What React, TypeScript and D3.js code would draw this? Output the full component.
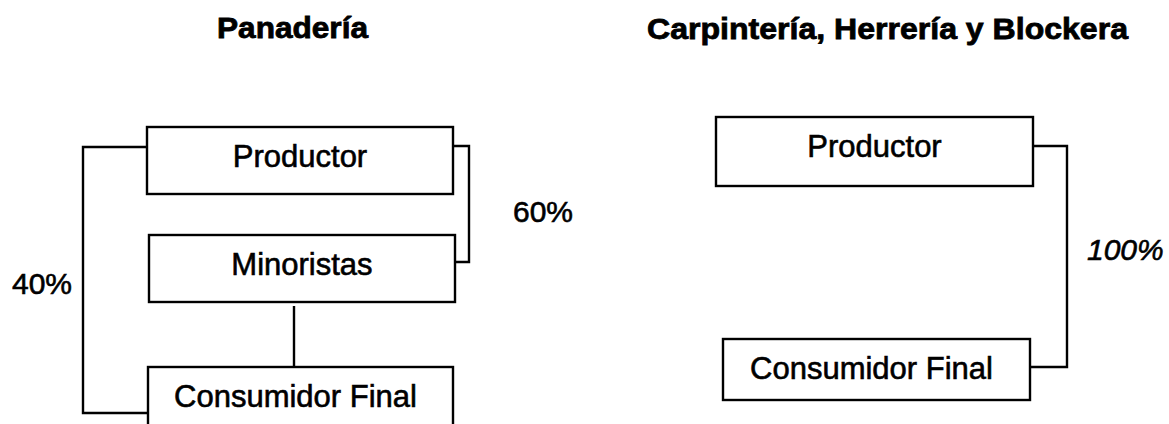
import React from "react";
import * as d3 from "d3";

// ---- data ----
const panelTitles = ["Panadería", "Carpintería, Herrería y Blockera"];
const leftNodes = ["Productor", "Minoristas", "Consumidor Final"];
const rightNodes = ["Productor", "Consumidor Final"];
const leftShares = ["40%", "60%"];
const rightShares = ["100%"];

// ---- layout (positions only) ----
const W = 1169;
const H = 424;
const FONT = "'Liberation Sans', Arial, Helvetica, sans-serif";

type Box = { x0: number; x1: number; y0: number; y1: number };
const leftBoxes: Box[] = [
  { x0: 147, x1: 453, y0: 127, y1: 194 },
  { x0: 149, x1: 455, y0: 235, y1: 302 },
  { x0: 148, x1: 453, y0: 367, y1: 440 },
];
const rightBoxes: Box[] = [
  { x0: 716, x1: 1033, y0: 117, y1: 186 },
  { x0: 723, x1: 1030, y0: 339, y1: 400 },
];
const titleLayout = [
  { x0: 217, x1: 368, y: 38 },
  { x0: 647, x1: 1128, y: 39 },
];

function stepPath(pts: [number, number][]) {
  const p = d3.path();
  pts.forEach(([x, y], i) => (i === 0 ? p.moveTo(x, y) : p.lineTo(x, y)));
  return p.toString();
}

export default function App() {
  const lb = leftBoxes;
  const rb = rightBoxes;
  const connectors = [
    stepPath([[lb[0].x0, 147], [83, 147], [83, 413], [lb[2].x0, 413]]),
    stepPath([[lb[0].x1, 146], [469, 146], [469, 262], [lb[1].x1, 262]]),
    stepPath([[294, lb[1].y1 + 4], [294, lb[2].y0]]),
    stepPath([[rb[0].x1, 146], [1067, 146], [1067, 367], [rb[1].x1, 367]]),
  ];

  const boxes = [
    ...leftNodes.map((n, i) => ({ label: n, b: lb[i] })),
    ...rightNodes.map((n, i) => ({ label: n, b: rb[i] })),
  ];

  const shareLabels = [
    { t: leftShares[0], x: 12, y: 294, italic: false },
    { t: leftShares[1], x: 513, y: 222, italic: false },
    { t: rightShares[0], x: 1087, y: 260, italic: true },
  ];

  return (
    <svg
      width={W}
      height={H}
      viewBox={`0 0 ${W} ${H}`}
      style={{ position: "absolute", left: 0, top: 0, background: "#fff" }}
    >
      <rect width={W} height={H} fill="#fff" />
      {panelTitles.map((t, i) => (
        <text
          key={t}
          x={titleLayout[i].x0}
          y={titleLayout[i].y}
          textLength={titleLayout[i].x1 - titleLayout[i].x0}
          lengthAdjust="spacingAndGlyphs"
          fontFamily={FONT}
          fontWeight="bold"
          fontSize={29}
          fill="#000"
          stroke="#000"
          strokeWidth={0.8}
        >
          {t}
        </text>
      ))}
      {connectors.map((d, i) => (
        <path key={i} d={d} fill="none" stroke="#000" strokeWidth={2.4} />
      ))}
      {boxes.map(({ label, b }, i) => (
        <g key={i}>
          <rect
            x={b.x0}
            y={b.y0}
            width={b.x1 - b.x0}
            height={b.y1 - b.y0}
            fill="#fff"
            stroke="#000"
            strokeWidth={2.4}
          />
          <text
            x={(b.x0 + b.x1) / 2 - (label === "Consumidor Final" ? 5 : 0)}
            y={b.y0 + 40}
            textAnchor="middle"
            fontFamily={FONT}
            fontSize={31}
            fill="#000"
            stroke="#000"
            strokeWidth={0.6}
          >
            {label}
          </text>
        </g>
      ))}
      {shareLabels.map((s) => (
        <text
          key={s.t}
          x={s.x}
          y={s.y}
          fontFamily={FONT}
          fontSize={30}
          fontStyle={s.italic ? "italic" : "normal"}
          fill="#000"
          stroke="#000"
          strokeWidth={0.6}
        >
          {s.t}
        </text>
      ))}
    </svg>
  );
}
